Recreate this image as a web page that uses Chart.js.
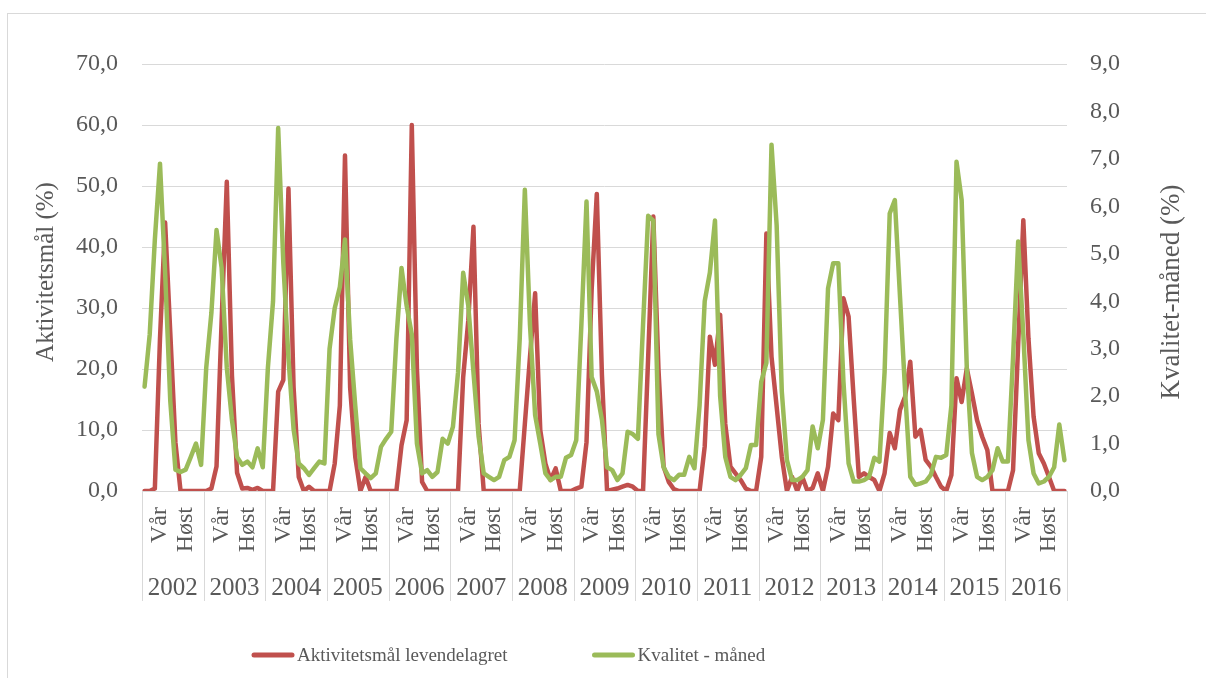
<!DOCTYPE html>
<html><head><meta charset="utf-8">
<script src="https://cdn.jsdelivr.net/npm/chart.js@4.4.1/dist/chart.umd.min.js"></script>
<style>html,body{margin:0;padding:0;background:#fff;}#wrap{position:relative;width:1206px;height:678px;}</style>
</head><body><div id="wrap"><canvas id="c" width="1206" height="678"></canvas></div>
<script>
const years = ['2002','2003','2004','2005','2006','2007','2008','2009','2010','2011','2012','2013','2014','2015','2016'];
const seasonLabels = ['', '', '', 'Vår', '', '', '', '', 'Høst', '', '', ''];
const seriesNames = ['Aktivitetsmål levendelagret', 'Kvalitet - måned'];
const leftTitle = 'Aktivitetsmål (%)';
const rightTitle = 'Kvalitet-måned (%)';

// Aktivitetsmål levendelagret (%), monthly 2002-2016
const aktivitet = [
  0, 0, 0.4, 25, 44, 26, 8, 0, 0, 0, 0, 0,
  0, 0.4, 4, 28, 50.7, 19, 3, 0.4, 0.5, 0.2, 0.5, 0,
  0, 0, 16.3, 18.2, 49.6, 17, 2.3, 0, 0.7, 0, 0, 0,
  0, 4.5, 14, 55, 17, 5.6, 0, 2.3, 0, 0, 0, 0,
  0, 0, 7.5, 11.6, 60, 20, 1.5, 0, 0, 0, 0, 0,
  0, 0, 18.7, 28, 43.3, 11, 0, 0, 0, 0, 0, 0,
  0, 0, 11, 22, 32.4, 10, 4.5, 1.8, 3.7, 0, 0, 0,
  0.4, 0.7, 8, 33, 48.7, 19, 0, 0.2, 0.4, 0.7, 1, 0.7,
  0, 0, 22, 45, 20, 4, 1.5, 0.3, 0, 0, 0, 0,
  0, 7.3, 25.3, 20.7, 28.9, 11, 4, 2.9, 1.8, 0.4, 0, 0,
  5.6, 42.2, 22, 13.8, 5.6, 0, 2.3, 0, 2.3, 0, 0.5, 2.9,
  0, 4, 12.7, 11.6, 31.6, 28.6, 15, 2.3, 2.9, 2.3, 1.8, 0,
  2.9, 9.5, 7, 13.3, 15.5, 21.2, 8.9, 10, 5.1, 4, 2.3, 0.7,
  0, 2.6, 18.5, 14.6, 20.1, 16, 11.6, 8.9, 6.7, 0, 0, 0,
  0, 3.4, 24, 44.4, 25, 12.2, 6.2, 4.5, 2.3, 0, 0, 0
];
// Kvalitet - måned (%), monthly 2002-2016
const kvalitet = [
  2.2, 3.3, 5.3, 6.9, 4.6, 1.9, 0.45, 0.4, 0.45, 0.72, 1.0, 0.55,
  2.6, 3.75, 5.5, 4.7, 2.6, 1.5, 0.72, 0.55, 0.62, 0.5, 0.9, 0.5,
  2.6, 4.0, 7.65, 4.8, 2.8, 1.3, 0.58, 0.48, 0.34, 0.48, 0.62, 0.58,
  3.0, 3.85, 4.3, 5.3, 3.2, 1.8, 0.48, 0.37, 0.27, 0.37, 0.93, 1.1,
  1.25, 3.2, 4.7, 3.9, 3.3, 1.0, 0.37, 0.44, 0.3, 0.4, 1.1, 1.0,
  1.35, 2.5, 4.6, 3.9, 2.5, 1.15, 0.37, 0.3, 0.23, 0.3, 0.65, 0.72,
  1.07, 3.2, 6.35, 3.5, 1.6, 1.0, 0.37, 0.23, 0.3, 0.3, 0.7, 0.76,
  1.07, 3.5, 6.1, 2.4, 2.1, 1.5, 0.5, 0.44, 0.23, 0.37, 1.25, 1.2,
  1.1, 3.5, 5.8, 5.7, 1.2, 0.5, 0.3, 0.23, 0.34, 0.34, 0.72, 0.48,
  1.8, 4.0, 4.6, 5.7, 2.0, 0.72, 0.3, 0.23, 0.34, 0.48, 0.97, 0.97,
  2.3, 2.7, 7.3, 5.6, 2.1, 0.65, 0.23, 0.23, 0.3, 0.44, 1.36, 0.9,
  1.5, 4.27, 4.8, 4.8, 2.3, 0.58, 0.2, 0.2, 0.23, 0.3, 0.7, 0.62,
  2.5, 5.85, 6.13, 4.1, 2.1, 0.3, 0.13, 0.16, 0.2, 0.34, 0.72, 0.7,
  0.76, 1.8, 6.94, 6.13, 2.6, 0.8, 0.3, 0.23, 0.3, 0.44, 0.9, 0.62,
  0.62, 2.8, 5.26, 3.3, 1.07, 0.37, 0.16, 0.2, 0.3, 0.5, 1.4, 0.65
];

const labels = [];
years.forEach(y => seasonLabels.forEach((s, m) => labels.push(y + '-' + (m + 1))));

const FONT = '"Liberation Serif", "Times New Roman", serif';
const TXT = '#595959';
const GRID = '#d9d9d9';
const fmt = v => Number(v).toFixed(1).replace('.', ',');

const decor = {
  id: 'decor',
  beforeDraw(chart) {
    const ctx = chart.ctx;
    ctx.save();
    ctx.strokeStyle = GRID; ctx.lineWidth = 1;
    ctx.strokeRect(7.5, 13.5, 1400, 900);
    ctx.restore();
  },
  afterDraw(chart) {
    const ctx = chart.ctx, x = chart.scales.x, area = chart.chartArea;
    const half = (x.getPixelForValue(1) - x.getPixelForValue(0)) / 2;
    ctx.save();
    ctx.strokeStyle = GRID; ctx.lineWidth = 1;
    for (let k = 0; k <= years.length; k++) {
      const px = Math.round(x.getPixelForValue(k * 12) - half) + 0.5;
      ctx.beginPath(); ctx.moveTo(px, area.bottom); ctx.lineTo(px, 601); ctx.stroke();
    }
    ctx.fillStyle = TXT;
    ctx.font = '25px ' + FONT;
    ctx.textAlign = 'center'; ctx.textBaseline = 'middle';
    years.forEach((y, k) => {
      const cx = (x.getPixelForValue(k * 12) + x.getPixelForValue(k * 12 + 11)) / 2;
      ctx.fillText(y, cx, 588);
    });
    // axis titles (both read bottom-to-top)
    ctx.font = '25px ' + FONT;
    ctx.save(); ctx.translate(46, 272); ctx.rotate(-Math.PI / 2); ctx.fillText(leftTitle, 0, 0); ctx.restore();
    ctx.font = '27px ' + FONT;
    ctx.save(); ctx.translate(1172, 292); ctx.rotate(-Math.PI / 2); ctx.fillText(rightTitle, 0, 0); ctx.restore();
    // legend
    ctx.font = '19px ' + FONT;
    ctx.textAlign = 'left';
    let lx = 254;
    const ly = 655;
    chart.data.datasets.forEach(ds => {
      ctx.strokeStyle = ds.borderColor; ctx.lineWidth = 5; ctx.lineCap = 'round';
      ctx.beginPath(); ctx.moveTo(lx, ly); ctx.lineTo(lx + 38, ly); ctx.stroke();
      ctx.fillStyle = TXT;
      ctx.fillText(ds.label, lx + 43, ly + 1);
      lx += 43 + ctx.measureText(ds.label).width + 87;
    });
    ctx.restore();
  }
};

new Chart(document.getElementById('c'), {
  type: 'line',
  data: {
    labels: labels,
    datasets: [
      { label: seriesNames[0], data: aktivitet, yAxisID: 'y', borderColor: '#C0504D', backgroundColor: '#C0504D',
        borderWidth: 4.5, pointRadius: 0, tension: 0, borderJoinStyle: 'round', borderCapStyle: 'round', order: 1 },
      { label: seriesNames[1], data: kvalitet, yAxisID: 'y2', borderColor: '#9BBB59', backgroundColor: '#9BBB59',
        borderWidth: 4.5, pointRadius: 0, tension: 0, borderJoinStyle: 'round', borderCapStyle: 'round', order: 0 }
    ]
  },
  options: {
    responsive: false, animation: false, devicePixelRatio: 1,
    layout: { padding: { top: 64, bottom: 73, left: 0, right: 0 } },
    plugins: { legend: { display: false }, tooltip: { enabled: false } },
    scales: {
      x: {
        type: 'category', offset: true,
        grid: { display: false, drawTicks: false }, border: { display: false },
        ticks: { autoSkip: false, minRotation: 90, maxRotation: 90, padding: 16, color: TXT,
          font: { family: FONT, size: 24 }, callback: (v, i) => seasonLabels[i % 12] },
        afterFit(s) { s.height = 114; }
      },
      y: {
        position: 'left', min: 0, max: 70,
        ticks: { stepSize: 10, padding: 24, color: TXT, font: { family: FONT, size: 24 }, callback: fmt },
        grid: { color: GRID, lineWidth: 1, drawTicks: false }, border: { display: false },
        afterFit(s) { s.width = 142; }
      },
      y2: {
        position: 'right', min: 0, max: 9,
        ticks: { stepSize: 1, padding: 23, color: TXT, font: { family: FONT, size: 24 }, callback: fmt },
        grid: { display: false, drawTicks: false }, border: { display: false },
        afterFit(s) { s.width = 139; }
      }
    }
  },
  plugins: [decor]
});
</script></body></html>
